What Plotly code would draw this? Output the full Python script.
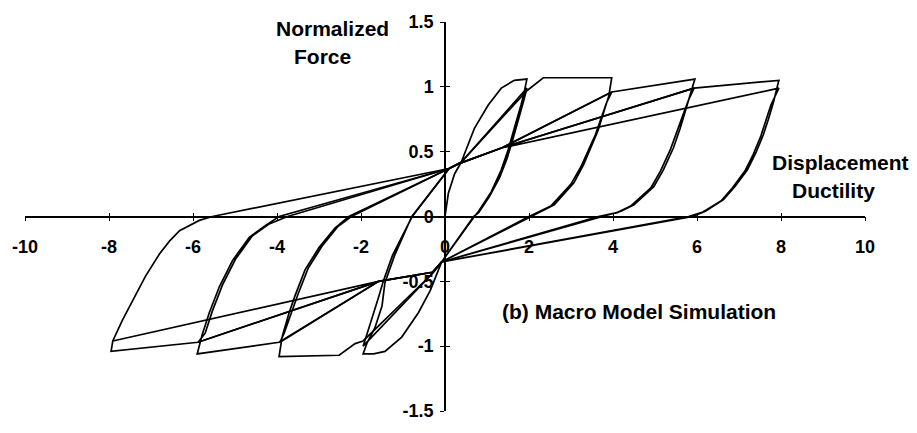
import plotly.graph_objects as go

# Axis ticks and their printed labels
x_ticks = [-10, -8, -6, -4, -2, 0, 2, 4, 6, 8, 10]
x_tick_labels = ["-10", "-8", "-6", "-4", "-2", "0", "2", "4", "6", "8", "10"]
y_ticks = [-1.5, -1, -0.5, 0, 0.5, 1, 1.5]
y_tick_labels = ["-1.5", "-1", "-0.5", "0", "0.5", "1", "1.5"]

# Load path, ductility level 2 (two cycles, starting at rest)
lvl2_x = [0, 0.08, 0.23, 0.39, 0.46, 0.70, 1.03, 1.34, 1.65, 1.95,
          1.88, 1.81, 1.65, 1.50, 1.34, 1.10, 0.80, 0.70,
          -0.08, -0.20, -0.35, -0.63, -1.03, -1.43, -1.70, -1.95,
          -1.85, -1.67, -1.50, -1.43, -1.20, -0.79,
          0.10, 0.39, 1.95,
          1.88, 1.78, 1.62, 1.48, 1.30, 1.05, 0.80, 0.68,
          -0.08, -0.30, -1.95,
          -1.90, -1.75, -1.58, -1.47, -1.25, -0.78]
lvl2_y = [0, 0.18, 0.33, 0.42, 0.48, 0.68, 0.86, 0.99, 1.05, 1.06,
          0.95, 0.86, 0.68, 0.51, 0.36, 0.19, 0.04, 0.00,
          -0.35, -0.45, -0.57, -0.74, -0.93, -1.04, -1.06, -1.06,
          -0.97, -0.86, -0.69, -0.51, -0.30, 0.00,
          0.37, 0.42, 0.99,
          0.90, 0.78, 0.60, 0.45, 0.30, 0.15, 0.03, 0.00,
          -0.35, -0.44, -1.00,
          -0.95, -0.80, -0.62, -0.50, -0.30, 0.00]

# Ductility level 4
lvl4_x = [-0.78, 0.10, 0.39, 1.95, 2.34, 3.97,
          3.90, 3.64, 3.30, 3.07, 2.60, 2.05,
          -0.08, -0.30, -1.95, -2.14, -2.52, -3.95,
          -3.88, -3.71, -3.57, -3.33, -3.00, -2.62, -2.29,
          0.10, 0.35, 1.36, 3.97,
          3.85, 3.58, 3.23, 3.00, 2.52, 2.00,
          -0.08, -0.30, -1.58, -3.93,
          -3.83, -3.65, -3.50, -3.26, -2.93, -2.56, -2.23]
lvl4_y = [0.00, 0.37, 0.42, 0.97, 1.07, 1.07,
          0.93, 0.66, 0.40, 0.26, 0.09, 0.00,
          -0.35, -0.44, -0.96, -0.98, -1.07, -1.08,
          -0.93, -0.74, -0.61, -0.41, -0.24, -0.09, 0.00,
          0.37, 0.41, 0.53, 0.96,
          0.88, 0.63, 0.38, 0.25, 0.08, 0.00,
          -0.35, -0.43, -0.50, -0.97,
          -0.90, -0.73, -0.60, -0.40, -0.23, -0.08, 0.00]

# Ductility level 6
lvl6_x = [-2.23, 0.10, 0.35, 1.36, 3.97, 5.95,
          5.85, 5.78, 5.60, 5.44, 5.20, 4.97, 4.50, 4.19, 3.75,
          -0.08, -0.30, -1.58, -3.95, -5.90,
          -5.78, -5.61, -5.37, -5.06, -4.66, -4.28, -3.95,
          0.10, 0.35, 1.36, 5.93,
          5.80, 5.72, 5.53, 5.37, 5.13, 4.90, 4.42, 4.10, 3.65,
          -0.08, -0.30, -1.58, -5.88,
          -5.71, -5.54, -5.30, -4.99, -4.59, -4.20, -3.75]
lvl6_y = [0.00, 0.37, 0.41, 0.53, 0.96, 1.06,
          0.95, 0.86, 0.68, 0.53, 0.36, 0.23, 0.09, 0.04, 0.00,
          -0.35, -0.43, -0.50, -0.97, -1.06,
          -0.91, -0.74, -0.54, -0.34, -0.16, -0.07, 0.00,
          0.37, 0.41, 0.53, 0.99,
          0.90, 0.83, 0.66, 0.52, 0.35, 0.22, 0.08, 0.03, 0.00,
          -0.35, -0.43, -0.50, -0.97,
          -0.90, -0.73, -0.53, -0.33, -0.15, -0.06, 0.00]

# Ductility level 8
lvl8_x = [-3.75, 0.10, 0.35, 1.36, 5.93, 7.95,
          7.94, 7.88, 7.82, 7.70, 7.58, 7.40, 7.20, 6.90, 6.63, 6.20, 5.90,
          -0.08, -0.30, -1.58, -5.88, -7.95,
          -7.91, -7.68, -7.44, -7.13, -6.80, -6.56, -6.32, -5.85, -5.54,
          0.10, 0.35, 1.36, 7.95,
          7.85, 7.76, 7.64, 7.52, 7.34, 7.14, 6.84, 6.57, 6.14, 5.80,
          -0.08, -0.30, -1.58, -7.91]
lvl8_y = [0.00, 0.37, 0.41, 0.53, 0.99, 1.05,
          1.04, 0.95, 0.88, 0.75, 0.63, 0.49, 0.36, 0.23, 0.13, 0.04, 0.00,
          -0.35, -0.43, -0.50, -0.97, -1.04,
          -0.96, -0.80, -0.65, -0.46, -0.29, -0.19, -0.11, -0.03, 0.00,
          0.37, 0.41, 0.53, 0.99,
          0.92, 0.86, 0.74, 0.62, 0.48, 0.35, 0.22, 0.12, 0.035, 0.00,
          -0.35, -0.43, -0.50, -0.96]

FONT = "Liberation Sans, Arial, sans-serif"

fig = go.Figure()
for xs, ys in [(lvl2_x, lvl2_y), (lvl4_x, lvl4_y), (lvl6_x, lvl6_y), (lvl8_x, lvl8_y)]:
    fig.add_trace(go.Scatter(x=xs, y=ys, mode="lines",
                             line=dict(color="black", width=1.7),
                             showlegend=False, hoverinfo="skip"))
# empty trace carrying the overlay axes (inner half of the cross ticks)
fig.add_trace(go.Scatter(x=[], y=[], xaxis="x2", yaxis="y2", showlegend=False))

tick_font = dict(family=FONT, size=18, color="black", weight="bold")
base = dict(showgrid=False, zeroline=False, tickcolor="black", tickwidth=1.3,
            ticklen=4, tickmode="array", fixedrange=True)

fig.update_layout(
    width=917, height=433,
    margin=dict(l=22, r=52, t=16, b=14),
    paper_bgcolor="white", plot_bgcolor="white",
    xaxis=dict(**base, range=[-10, 10], domain=[0, 1], anchor="free", position=0.5,
               showline=True, linecolor="black", linewidth=1.5,
               tickvals=x_ticks, ticktext=x_tick_labels, ticks="outside",
               tickfont=tick_font, ticklabelstandoff=10),
    yaxis=dict(**base, range=[-1.5, 1.5], domain=[0, 1], anchor="free", position=0.5,
               showline=True, linecolor="black", linewidth=1.5,
               tickvals=y_ticks, ticktext=y_tick_labels, ticks="outside",
               tickfont=tick_font, ticklabelstandoff=3),
    xaxis2=dict(**base, range=[-10, 10], overlaying="x", anchor="free", position=0.5,
                showline=False, tickvals=x_ticks, ticks="inside", showticklabels=False),
    yaxis2=dict(**base, range=[-1.5, 1.5], overlaying="y", anchor="free", position=0.5,
                showline=False, tickvals=y_ticks, ticks="inside", showticklabels=False),
)

title_font = dict(family=FONT, size=21, color="black", weight="bold")
labels = [
    ("Normalized", 0.3665, 0.983),
    ("Force", 0.3547, 0.912),
    ("Displacement", 0.9703, 0.638),
    ("Ductility", 0.962, 0.568),
    ("(b) Macro Model Simulation", 0.7307, 0.2556),
]
for text, px, py in labels:
    fig.add_annotation(text=text, x=px, y=py, xref="paper", yref="paper",
                       showarrow=False, xanchor="center", yanchor="middle",
                       font=title_font)

fig.write_html("out.html")
